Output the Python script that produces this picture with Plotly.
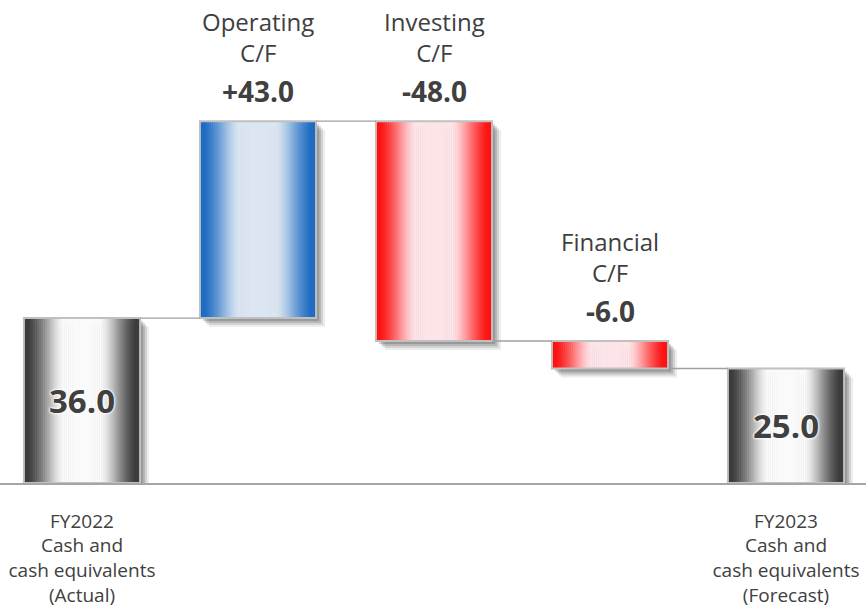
import numpy as np
import plotly.graph_objects as go

# Cash flow bridge, FY2022 actual to FY2023 forecast
tick_labels = [
    "FY2022<br>Cash and<br>cash equivalents<br>(Actual)",
    "",
    "",
    "",
    "FY2023<br>Cash and<br>cash equivalents<br>(Forecast)",
]
flow_names = ["", "Operating<br>C/F", "Investing<br>C/F", "Financial<br>C/F", ""]
values = [36.0, 43.0, -48.0, -6.0, 25.0]
measures = ["total", "relative", "relative", "relative", "total"]

TEXT = "#404040"
FONT = "Open Sans, Noto Sans, sans-serif"
BAR_W = 0.66
N_SLICES = 60

# edge / centre colours of the cylinder-style shading
PALETTES = {
    "total": ((60, 60, 60), (250, 250, 250)),
    "up": ((30, 108, 196), (220, 230, 242)),
    "down": ((255, 18, 18), (253, 228, 232)),
}

# running levels of the bridge
starts, ends = [], []
level = 0.0
for v, m in zip(values, measures):
    if m == "total":
        s, e = 0.0, v
    else:
        s, e = level, level + v
    starts.append(s)
    ends.append(e)
    level = e
lows = [min(s, e) for s, e in zip(starts, ends)]
heights = [abs(e - s) for s, e in zip(starts, ends)]
kinds = ["total" if m == "total" else ("up" if v > 0 else "down") for v, m in zip(values, measures)]
xpos = list(range(len(values)))


def shade(t, kind):
    edge, centre = PALETTES[kind]
    f = 1 - abs(2 * t - 1)
    g = float(np.clip((f - 0.08) / 0.60, 0, 1))
    g = 0.5 * g + 0.5 * g * g * (3 - 2 * g)
    c = [int(round(a + (b - a) * g)) for a, b in zip(edge, centre)]
    return f"rgb({c[0]},{c[1]},{c[2]})"


fig = go.Figure()

# soft drop shadow behind each bar
px_per_x = 176.0
px_per_y = 4.58
for off, alpha in [(9, 0.07), (7, 0.10), (5, 0.14), (3, 0.16)]:
    fig.add_trace(go.Bar(
        x=[x + off / px_per_x for x in xpos],
        y=heights,
        base=[b - off / px_per_y for b in lows],
        width=BAR_W,
        marker=dict(color=f"rgba(0,0,0,{alpha})", line=dict(width=0)),
        hoverinfo="skip",
    ))

# shaded fill built from thin vertical slices
sx, sy, sb, sc = [], [], [], []
for x, lo, h, k in zip(xpos, lows, heights, kinds):
    for j in range(N_SLICES):
        t = (j + 0.5) / N_SLICES
        sx.append(x - BAR_W / 2 + t * BAR_W)
        sy.append(h)
        sb.append(lo)
        sc.append(shade(t, k))
fig.add_trace(go.Bar(
    x=sx, y=sy, base=sb,
    width=BAR_W / N_SLICES * 1.25,
    marker=dict(color=sc, line=dict(width=0)),
    hoverinfo="skip",
))

# outline and totals text
total_text = [f"{v:.1f}" if m == "total" else "" for v, m in zip(values, measures)]
fig.add_trace(go.Bar(
    x=xpos, y=heights, base=lows,
    width=BAR_W,
    marker=dict(color="rgba(0,0,0,0)", line=dict(color="#c0c0c0", width=2)),
    text=total_text,
    textposition="inside",
    insidetextanchor="middle",
    textangle=0,
    textfont=dict(family=FONT, size=33, color=TEXT, weight="bold",
                  shadow="0 0 3px #ffffff, 0 0 3px #ffffff, 0 0 2px #ffffff"),
    hoverinfo="skip",
))

# connectors between consecutive bars
for i in range(len(values) - 1):
    fig.add_trace(go.Scatter(
        x=[xpos[i] + BAR_W / 2, xpos[i + 1] - BAR_W / 2],
        y=[ends[i], ends[i]],
        mode="lines",
        line=dict(color="#a0a0a0", width=1.3),
        hoverinfo="skip",
    ))

# flow labels above each movement bar
for x, name, v, s, e in zip(xpos, flow_names, values, starts, ends):
    if not name:
        continue
    top = max(s, e)
    fig.add_annotation(
        x=x, y=top, text=name, showarrow=False,
        yanchor="middle", yshift=84,
        font=dict(family=FONT, size=24, color=TEXT),
    )
    fig.add_annotation(
        x=x, y=top, text=f"<b>{v:+.1f}</b>", showarrow=False,
        yanchor="middle", yshift=30,
        font=dict(family=FONT, size=28, color=TEXT),
    )

fig.update_layout(
    width=866, height=607,
    margin=dict(l=0, r=0, t=0, b=124),
    paper_bgcolor="white", plot_bgcolor="white",
    barmode="overlay",
    showlegend=False,
    xaxis=dict(
        range=[-82 / px_per_x, 4 + 80 / px_per_x],
        tickvals=xpos, ticktext=tick_labels,
        tickfont=dict(family=FONT, size=19, color=TEXT),
        showgrid=False, zeroline=False,
        showline=True, linecolor="#a6a6a6", linewidth=1.5,
        ticks="", ticklabelstandoff=20,
        fixedrange=True,
    ),
    yaxis=dict(range=[0, 483 / px_per_y], visible=False, fixedrange=True),
)

fig.write_html("out.html")
